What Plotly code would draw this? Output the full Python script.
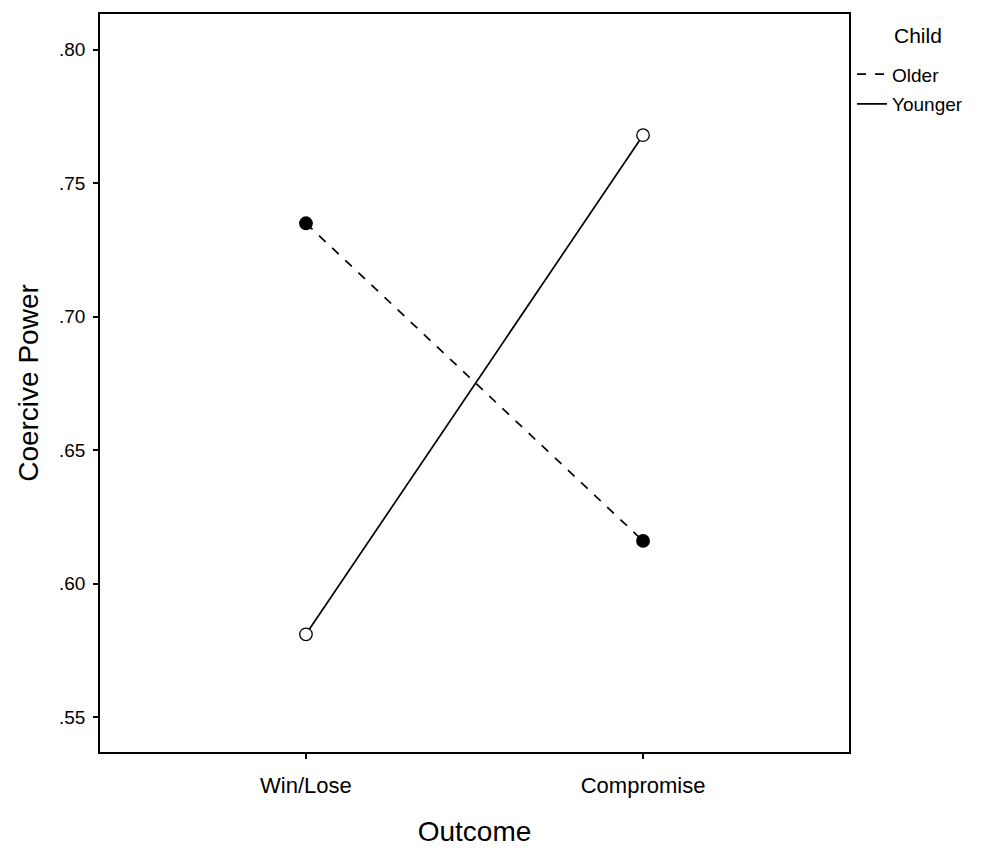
import plotly.graph_objects as go

outcomes = ["Win/Lose", "Compromise"]
older = [0.735, 0.616]
younger = [0.581, 0.768]
y_ticks = [0.55, 0.60, 0.65, 0.70, 0.75, 0.80]
y_tick_labels = [".55", ".60", ".65", ".70", ".75", ".80"]

xpos = [0, 1]
fig = go.Figure()
fig.add_trace(go.Scatter(x=xpos, y=older, mode="lines", name="Older", legendgroup="a",
                         line=dict(color="black", width=1.7, dash="dash")))
fig.add_trace(go.Scatter(x=xpos, y=younger, mode="lines", name="Younger", legendgroup="b",
                         line=dict(color="black", width=1.7)))
fig.add_trace(go.Scatter(x=xpos, y=older, mode="markers", showlegend=False,
                         marker=dict(color="black", size=12.5, line=dict(color="black", width=1.3))))
fig.add_trace(go.Scatter(x=xpos, y=younger, mode="markers", showlegend=False,
                         marker=dict(color="white", size=12.5, line=dict(color="black", width=1.3))))

font = "Liberation Sans, Arial, sans-serif"
# page has an 8px body margin, so margins are shifted by 8px
fig.update_layout(
    width=991, height=852,
    margin=dict(l=92, r=150, t=4, b=108),
    plot_bgcolor="white", paper_bgcolor="white",
    font=dict(family=font, color="black", size=19),
    xaxis=dict(range=[-0.611, 1.611], tickmode="array", tickvals=xpos, ticktext=outcomes,
               showgrid=False, zeroline=False, showline=True, mirror=True,
               linecolor="black", linewidth=1.6, ticks="outside", ticklen=5, tickwidth=1.6,
               tickcolor="black", tickfont=dict(size=22), ticklabelstandoff=8,
               title=dict(text="Outcome", font=dict(size=28), standoff=24)),
    yaxis=dict(range=[0.5369, 0.8134], tickmode="array", tickvals=y_ticks, ticktext=y_tick_labels,
               showgrid=False, zeroline=False, showline=True, mirror=True,
               linecolor="black", linewidth=1.6, ticks="outside", ticklen=5, tickwidth=1.6,
               tickcolor="black", tickfont=dict(size=19), ticklabelstandoff=4,
               title=dict(text="Coercive Power", font=dict(size=28), standoff=12)),
    legend=dict(x=1.004, xanchor="left", y=0.944, yanchor="top",
                font=dict(size=19), bgcolor="rgba(0,0,0,0)", borderwidth=0,
                tracegroupgap=2, itemwidth=30),
    annotations=[dict(text="Child", xref="paper", yref="paper", x=1.092, y=0.971,
                      xanchor="center", yanchor="middle", showarrow=False,
                      font=dict(size=21))],
)
fig.write_html("out.html")
